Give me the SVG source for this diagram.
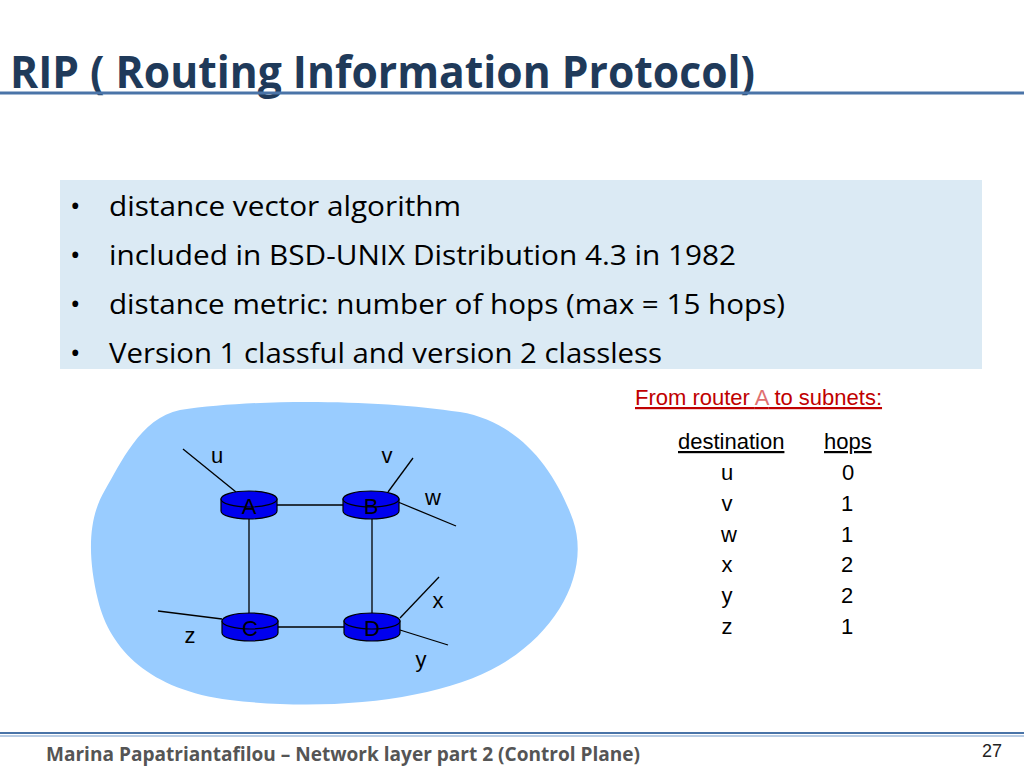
<svg xmlns="http://www.w3.org/2000/svg" width="1024" height="768" viewBox="0 0 1024 768">
<style>
.t{font-family:"Open Sans","Liberation Sans",sans-serif}
.b{font-size:28px;fill:#000}
.s{font-family:"Liberation Sans",Arial,sans-serif;font-size:22px;fill:#000}
.l{stroke:#000;stroke-width:1.3}
.rt{fill:#0000ee;stroke:#000;stroke-width:1.2}
</style>
<rect width="1024" height="768" fill="#fff"/>
<text x="10" y="88" class="t" font-size="44" font-weight="bold" fill="#1f3a5a" textLength="745" lengthAdjust="spacingAndGlyphs">RIP ( Routing Information Protocol)</text>
<line x1="0" y1="93" x2="1024" y2="93" stroke="#4a74a8" stroke-width="3"/>
<rect x="60" y="180" width="922" height="189" fill="#dbeaf4"/>
<g class="t b">
<text x="70" y="216">•</text><text x="109" y="216" textLength="352" lengthAdjust="spacingAndGlyphs">distance vector algorithm</text>
<text x="70" y="265">•</text><text x="109" y="265" textLength="627" lengthAdjust="spacingAndGlyphs">included in BSD-UNIX Distribution 4.3 in 1982</text>
<text x="70" y="314">•</text><text x="109" y="314" textLength="676" lengthAdjust="spacingAndGlyphs">distance metric: number of hops (max = 15 hops)</text>
<text x="70" y="363">•</text><text x="109" y="363" textLength="553" lengthAdjust="spacingAndGlyphs">Version 1 classful and version 2 classless</text>
</g>
<path d="M180,410 C260,398 380,400 460,412 C520,422 555,470 573,520 C590,570 560,630 500,665 C440,700 330,712 230,700 C150,690 110,650 98,600 C86,550 90,515 105,490 C120,465 140,418 180,410 Z" fill="#99ccff"/>
<g id="connectors">
<line class="l" x1="249" y1="505" x2="372" y2="505"/>
<line class="l" x1="249" y1="505" x2="249" y2="627"/>
<line class="l" x1="372" y1="505" x2="372" y2="627"/>
<line class="l" x1="249" y1="627" x2="372" y2="627"/>
<line class="l" x1="183" y1="449" x2="236" y2="492"/>
<line class="l" x1="413" y1="458" x2="388" y2="492"/>
<line class="l" x1="398" y1="502" x2="456" y2="526"/>
<line class="l" x1="439" y1="577" x2="400" y2="618"/>
<line class="l" x1="400" y1="630" x2="448" y2="645"/>
<line class="l" x1="158" y1="611" x2="222" y2="619"/>
</g>
<g id="A"><path class="rt" d="M221,499 v12 a28,8 0 0 0 56,0 v-12 Z"/><ellipse class="rt" cx="249" cy="499" rx="28" ry="8"/><text x="249" y="514" class="s" font-size="26" text-anchor="middle">A</text></g>
<g id="B"><path class="rt" d="M343,499 v12 a28,8 0 0 0 56,0 v-12 Z"/><ellipse class="rt" cx="371" cy="499" rx="28" ry="8"/><text x="371" y="514" class="s" font-size="26" text-anchor="middle">B</text></g>
<g id="C"><path class="rt" d="M222,621 v12 a28,8 0 0 0 56,0 v-12 Z"/><ellipse class="rt" cx="250" cy="621" rx="28" ry="8"/><text x="250" y="636" class="s" font-size="26" text-anchor="middle">C</text></g>
<g id="D"><path class="rt" d="M344,621 v12 a28,8 0 0 0 56,0 v-12 Z"/><ellipse class="rt" cx="372" cy="621" rx="28" ry="8"/><text x="372" y="636" class="s" font-size="26" text-anchor="middle">D</text></g>
<g class="s">
<text x="217" y="463" text-anchor="middle">u</text>
<text x="387" y="463" text-anchor="middle">v</text>
<text x="433" y="505" text-anchor="middle">w</text>
<text x="438" y="608" text-anchor="middle">x</text>
<text x="421" y="667" text-anchor="middle">y</text>
<text x="190" y="643" text-anchor="middle">z</text>
</g>
<text x="635" y="405" class="s" fill="#c00000" style="fill:#c00000" text-decoration="underline">From router <tspan fill="#e06060" style="fill:#e07070">A</tspan> to subnets:</text>
<g class="s">
<text x="678" y="449" text-decoration="underline">destination</text>
<text x="824" y="449" text-decoration="underline">hops</text>
<text x="727" y="480" text-anchor="middle">u</text><text x="848" y="480" text-anchor="middle">0</text>
<text x="727" y="511" text-anchor="middle">v</text><text x="847" y="511" text-anchor="middle">1</text>
<text x="729" y="542" text-anchor="middle">w</text><text x="847" y="542" text-anchor="middle">1</text>
<text x="727" y="572" text-anchor="middle">x</text><text x="847" y="572" text-anchor="middle">2</text>
<text x="727" y="603" text-anchor="middle">y</text><text x="847" y="603" text-anchor="middle">2</text>
<text x="727" y="634" text-anchor="middle">z</text><text x="847" y="634" text-anchor="middle">1</text>
</g>
<line x1="0" y1="733" x2="1024" y2="733" stroke="#4a74a8" stroke-width="2"/>
<line x1="0" y1="736" x2="1024" y2="736" stroke="#b8cce4" stroke-width="2"/>
<text x="46" y="761" class="t" font-size="19" font-weight="bold" fill="#555" textLength="594" lengthAdjust="spacingAndGlyphs">Marina Papatriantafilou –  Network layer part 2 (Control Plane)</text>
<text x="992" y="757" class="s" font-size="18" text-anchor="middle" style="font-size:18px;fill:#222">27</text>
</svg>
